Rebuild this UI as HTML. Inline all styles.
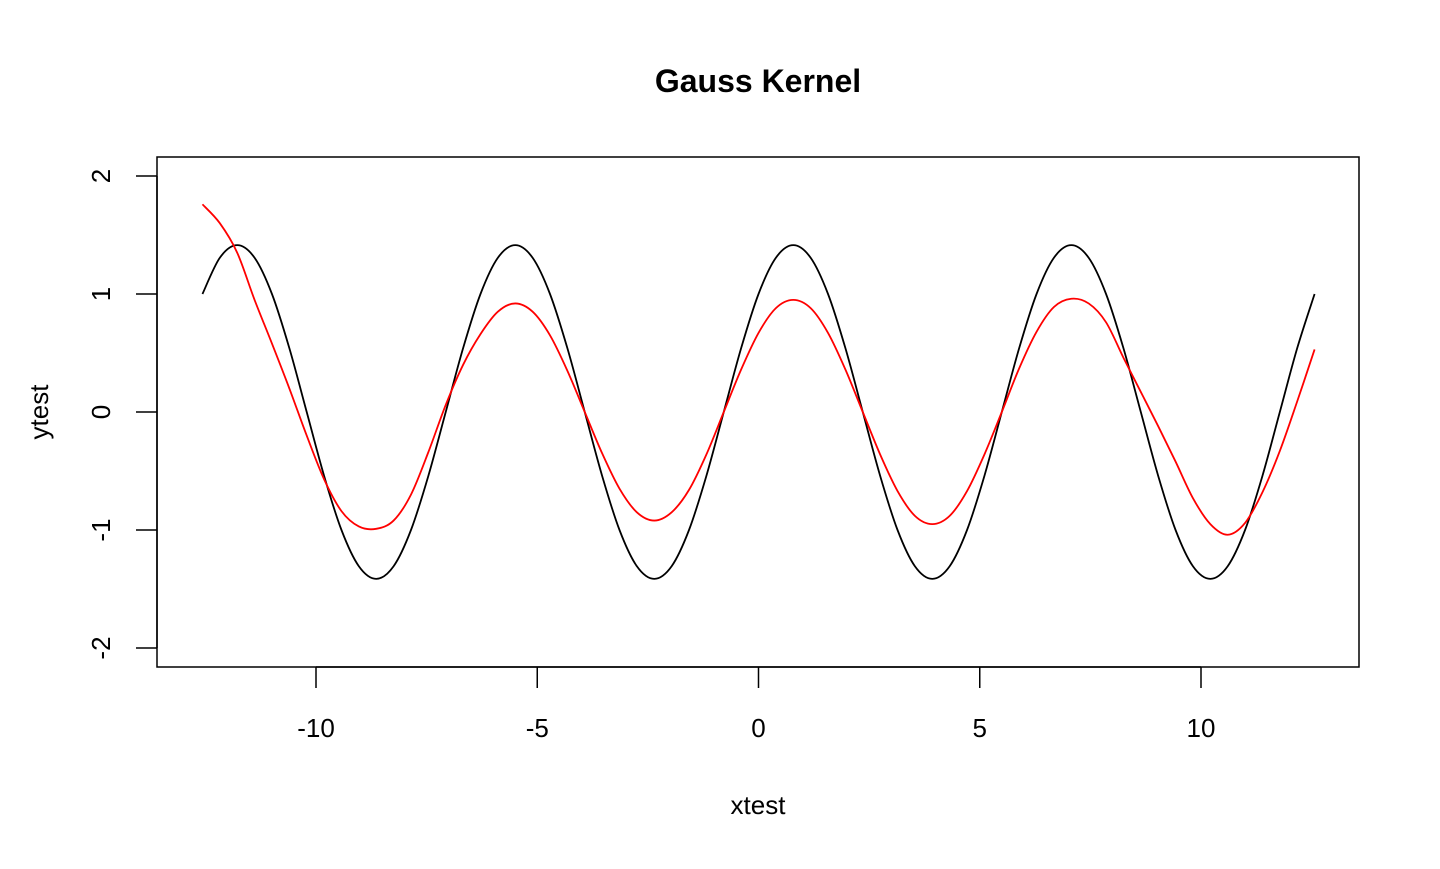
<!DOCTYPE html>
<html><head><meta charset="utf-8"><style>
body{margin:0;background:#fff;}
svg text{font-family:"Liberation Sans",Arial,sans-serif;}
</style></head><body>
<svg id="chart" width="1440" height="864" xmlns="http://www.w3.org/2000/svg">
<rect width="1440" height="864" fill="#fff"/>
<text x="758" y="92" font-size="32" font-weight="bold" text-anchor="middle">Gauss Kernel</text>
<rect x="157" y="157" width="1202" height="510" fill="none" stroke="#000" stroke-width="1.5"/>
<text x="758" y="814" font-size="26" text-anchor="middle">xtest</text>
<text transform="translate(48,412) rotate(-90)" font-size="26" text-anchor="middle">ytest</text>
<g id="xaxis"></g>
<g id="yaxis"></g>
<g id="series"></g>
</svg>
<script>
const xStart = -12.566;
const xStep = 0.3927;
const blackValues = [1,1.307,1.414,1.307,1,0.541,0,-0.541,-1,-1.307,-1.414,-1.307,-1,-0.541,0,0.541,
1,1.307,1.414,1.307,1,0.541,0,-0.541,-1,-1.307,-1.414,-1.307,-1,-0.541,0,0.541,
1,1.307,1.414,1.307,1,0.541,0,-0.541,-1,-1.307,-1.414,-1.307,-1,-0.541,0,0.541,
1,1.307,1.414,1.307,1,0.541,0,-0.541,-1,-1.307,-1.414,-1.307,-1,-0.541,0,0.541,1];
const redValues = [1.76,1.6,1.35,0.95,0.58,0.2,-0.2,-0.57,-0.84,-0.97,-0.99,-0.92,-0.7,-0.34,0.06,0.4,
0.66,0.85,0.92,0.85,0.65,0.35,0,-0.35,-0.65,-0.85,-0.92,-0.85,-0.66,-0.36,0,0.36,
0.67,0.88,0.95,0.88,0.67,0.36,0,-0.36,-0.67,-0.88,-0.95,-0.88,-0.67,-0.36,0,0.37,
0.68,0.89,0.96,0.92,0.76,0.46,0.17,-0.12,-0.42,-0.73,-0.95,-1.04,-0.94,-0.68,-0.33,0.09,0.53];
const xTicks = [-10,-5,0,5,10];
const yTicks = [-2,-1,0,1,2];

const NS = "http://www.w3.org/2000/svg";
function xs(v){return 758.5 + v*44.25;}
function ys(v){return 412 - v*118;}
function mk(tag, attrs, parent){const e=document.createElementNS(NS,tag);for(const k in attrs)e.setAttribute(k,attrs[k]);parent.appendChild(e);return e;}

const xa=document.getElementById('xaxis');
mk('line',{x1:xs(xTicks[0]),x2:xs(xTicks[xTicks.length-1]),y1:667,y2:667,stroke:'#000','stroke-width':1.5},xa);
xTicks.forEach(t=>{
  const l=mk('line',{x1:xs(t),x2:xs(t),y1:667,y2:688,stroke:'#000','stroke-width':1.5},xa);
  
  
  const tx=mk('text',{x:xs(t),y:737,'font-size':26,'text-anchor':'middle'},xa);
  tx.textContent=t;
  
  
});
const ya=document.getElementById('yaxis');
mk('line',{x1:157,x2:157,y1:ys(yTicks[0]),y2:ys(yTicks[yTicks.length-1]),stroke:'#000','stroke-width':1.5},ya);
yTicks.forEach(t=>{
  const l=mk('line',{x1:136,x2:157,y1:ys(t),y2:ys(t),stroke:'#000','stroke-width':1.5},ya);
  
  
  const tx=mk('text',{x:0,y:0,'font-size':26,'text-anchor':'middle',transform:`translate(110,${ys(t)}) rotate(-90)`},ya);
  tx.textContent=t;
  
  
});

function pathFor(vals){
  const p=vals.map((v,i)=>[xs(xStart+i*xStep),ys(v)]);
  let d=`M${p[0][0]},${p[0][1]}`;
  for(let i=0;i<p.length-1;i++){
    const p0=p[i-1]||p[i],p1=p[i],p2=p[i+1],p3=p[i+2]||p[i+1];
    const c1=[p1[0]+(p2[0]-p0[0])/6,p1[1]+(p2[1]-p0[1])/6];
    const c2=[p2[0]-(p3[0]-p1[0])/6,p2[1]-(p3[1]-p1[1])/6];
    d+=` C${c1[0]},${c1[1]} ${c2[0]},${c2[1]} ${p2[0]},${p2[1]}`;
  }
  return d;
}
const sg=document.getElementById('series');
const bl=mk('path',{d:pathFor(blackValues),fill:'none',stroke:'#000','stroke-width':1.8},sg);


const rl=mk('path',{d:pathFor(redValues),fill:'none',stroke:'#ff0000','stroke-width':1.8},sg);


</script>
</body></html>
